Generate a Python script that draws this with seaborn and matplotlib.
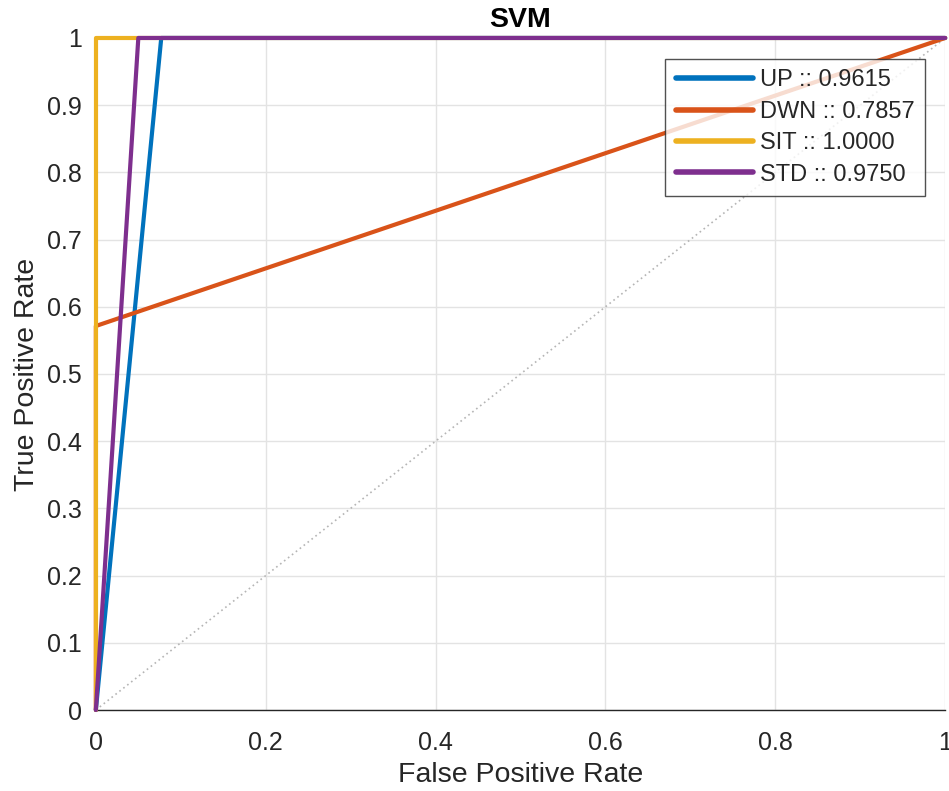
import matplotlib
matplotlib.use("Agg")
import matplotlib.pyplot as plt
import seaborn as sns
import numpy as np
import pandas as pd

classes = ["UP", "DWN", "SIT", "STD"]
aucs = ["0.9615", "0.7857", "1.0000", "0.9750"]
fpr_up = [0.0, 0.077, 1.0]
tpr_up = [0.0, 1.0, 1.0]
fpr_dwn = [0.0, 0.0, 1.0]
tpr_dwn = [0.0, 0.5714, 1.0]
fpr_sit = [0.0, 0.0, 1.0]
tpr_sit = [0.0, 1.0, 1.0]
fpr_std = [0.0, 0.05, 1.0]
tpr_std = [0.0, 1.0, 1.0]
colors = ["#0072BD", "#D95319", "#EDB120", "#7E2F8E"]
xticks = [0, 0.2, 0.4, 0.6, 0.8, 1.0]
xticklabels = ["0", "0.2", "0.4", "0.6", "0.8", "1"]
yticks = [0, 0.1, 0.2, 0.3, 0.4, 0.5, 0.6, 0.7, 0.8, 0.9, 1.0]
yticklabels = ["0", "0.1", "0.2", "0.3", "0.4", "0.5", "0.6", "0.7", "0.8", "0.9", "1"]

sns.set_theme(style="white")
plt.rcParams['font.family'] = ['Liberation Sans', 'DejaVu Sans']

rows = []
for c, a, fx, ty in zip(classes, aucs, [fpr_up, fpr_dwn, fpr_sit, fpr_std],
                        [tpr_up, tpr_dwn, tpr_sit, tpr_std]):
    lab = f"{c} :: {a}"
    for i, (x, y) in enumerate(zip(fx, ty)):
        rows.append({"label": lab, "fpr": x, "tpr": y, "order": i})
df = pd.DataFrame(rows)
labels = [f"{c} :: {a}" for c, a in zip(classes, aucs)]

fig = plt.figure(figsize=(9.49, 7.91), dpi=100)
ax = fig.add_axes([0.101, 0.1024, 0.895, 0.8496])

ax.grid(True, color="#e3e3e3", linewidth=1)
ax.set_axisbelow(True)

diag = pd.DataFrame({"x": [0.0, 1.0], "y": [0.0, 1.0]})
ax.plot(diag["x"], diag["y"], linestyle=(0, (1, 2)), color="#b5b5b5", linewidth=1.2)

sns.lineplot(data=df, x="fpr", y="tpr", hue="label", hue_order=labels,
             palette=colors, sort=False, estimator=None, linewidth=3, ax=ax)
for ln in ax.lines:
    ln.set_clip_on(False)
    ln.set_zorder(3)

ax.set_xlim(0, 1)
ax.set_ylim(0, 1)
ax.set_xticks(xticks)
ax.set_xticklabels(xticklabels)
ax.set_yticks(yticks)
ax.set_yticklabels(yticklabels)
ax.tick_params(direction="in", length=5, width=1, color="#262626", labelsize=18,
               labelcolor="#262626")
ax.tick_params(axis="y", pad=10)
ax.tick_params(axis="x", pad=15)
for s in ["top", "right"]:
    ax.spines[s].set_visible(False)
for s in ["left", "bottom"]:
    ax.spines[s].set_color("#262626")
    ax.spines[s].set_linewidth(1)

ax.set_xlabel("False Positive Rate", fontsize=20.5, color="#262626", labelpad=5)
ax.set_ylabel("True Positive Rate", fontsize=20.5, color="#262626", labelpad=5)
ax.set_title("SVM", fontsize=20.5, fontweight="bold", color="#000000", pad=8)

leg = ax.legend(loc="upper right", bbox_to_anchor=(0.9764, 0.969), fontsize=17,
                frameon=True, fancybox=False, edgecolor="#262626", handlelength=3.26,
                borderpad=0.45, labelspacing=0.4, handletextpad=0.3, borderaxespad=0)
leg.get_frame().set_linewidth(1)
for h in leg.get_lines():
    h.set_linewidth(4)

fig.savefig("out.png", dpi=100)
